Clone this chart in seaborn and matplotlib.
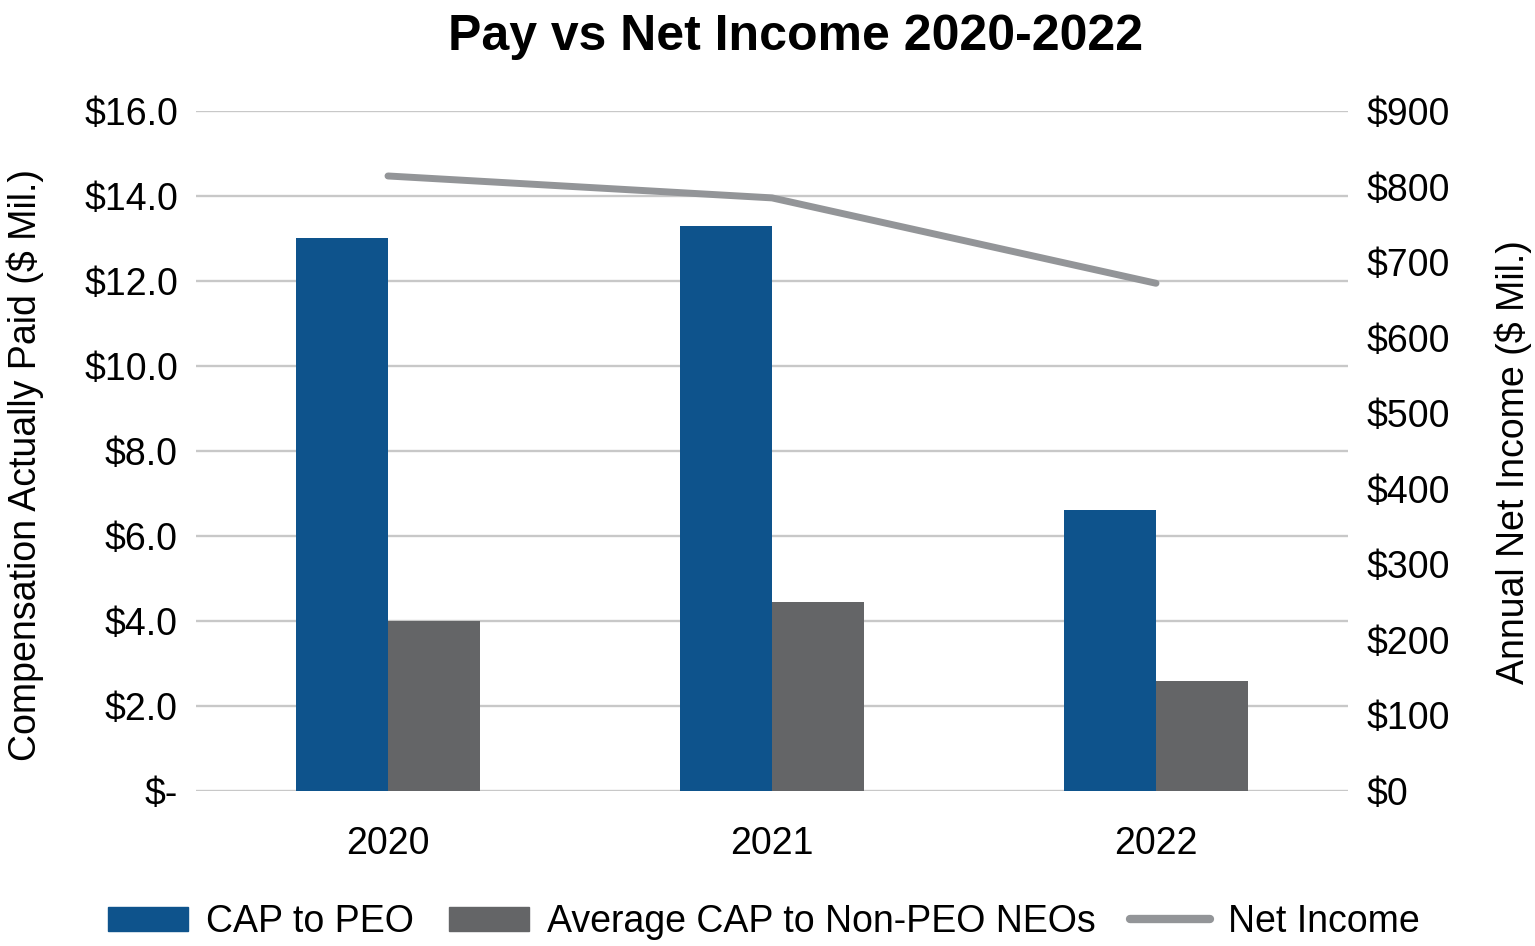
import numpy as np
import pandas as pd
import matplotlib.pyplot as plt
import seaborn as sns
from matplotlib.patches import Patch
from matplotlib.lines import Line2D

# values ($ millions)
years = ["2020", "2021", "2022"]
cap_peo = [13.0, 13.3, 6.6]
cap_neo = [4.0, 4.45, 2.6]
net_income = [814, 785, 672]

series_names = ["CAP to PEO", "Average CAP to Non-PEO NEOs"]
blue = "#0E538C"
dark_gray = "#646567"
line_gray = "#939598"
grid_gray = "#C8C8C8"

sns.set_theme(style="white")
plt.rcParams["font.family"] = ["Liberation Sans", "DejaVu Sans"]
plt.rcParams["text.color"] = "black"
plt.rcParams["axes.labelcolor"] = "black"

df = pd.DataFrame({
    "year": years * 2,
    "value": cap_peo + cap_neo,
    "series": [series_names[0]] * len(years) + [series_names[1]] * len(years),
})

fig = plt.figure(figsize=(15.35, 9.46), dpi=100)
ax = fig.add_axes([196 / 1535, 1 - 791 / 946, (1348 - 196) / 1535, (791 - 111) / 946])

sns.barplot(data=df, x="year", y="value", hue="series", palette=[blue, dark_gray],
            width=0.48, saturation=1, linewidth=0, ax=ax, legend=False)
ax.set_xlim(-0.5, len(years) - 0.5)
ax.set_ylim(0, 16)
ax.set_yticks(np.arange(0, 16.1, 2))
ax.set_yticklabels(["$-"] + [f"${v:.1f}" for v in np.arange(2, 16.1, 2)])
ax.yaxis.grid(True, color=grid_gray, linewidth=1.7)
ax.set_axisbelow(True)
for s in ax.spines.values():
    s.set_visible(False)
ax.tick_params(axis="both", length=0, labelsize=27, colors="black")
ax.tick_params(axis="x", pad=25)
ax.tick_params(axis="y", pad=13)
ax.set_xlabel("")
ax.set_ylabel("Compensation Actually Paid ($ Mil.)", fontsize=27)
ax.yaxis.set_label_coords(-0.132, 0.479)

ax2 = ax.twinx()
sns.lineplot(x=np.arange(len(years)), y=net_income, color=line_gray, linewidth=5,
             solid_capstyle="round", ax=ax2)
ax2.set_ylim(0, 900)
ax2.set_yticks(np.arange(0, 901, 100))
ax2.set_yticklabels([f"${v}" for v in range(0, 901, 100)])
for s in ax2.spines.values():
    s.set_visible(False)
ax2.tick_params(axis="y", length=0, labelsize=27, pad=13, colors="black")
ax2.set_ylabel("Annual Net Income ($ Mil.)", fontsize=27)
ax2.yaxis.set_label_coords(1.127, 0.484)
ax2.grid(False)

fig.text(796 / 1535, 1 - 37 / 946, "Pay vs Net Income 2020-2022", ha="center", va="center",
         fontsize=36, fontweight="bold")

handles = [Patch(color=blue), Patch(color=dark_gray),
           Line2D([0], [0], color=line_gray, linewidth=6, solid_capstyle="round")]
fig.legend(handles, series_names + ["Net Income"], loc="center", ncol=3,
           bbox_to_anchor=(764 / 1535, 1 - 922 / 946), frameon=False, fontsize=27,
           handlelength=2.13, handleheight=0.6, columnspacing=0.93, handletextpad=0.48,
           borderpad=0, borderaxespad=0)

fig.savefig("out.png", dpi=100)
